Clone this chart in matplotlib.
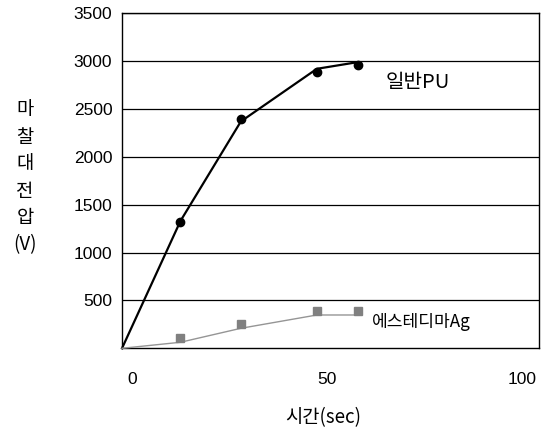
import matplotlib
matplotlib.use("Agg")
import matplotlib.pyplot as plt
import matplotlib.transforms as mtransforms

plt.rcParams['font.family'] = ['Liberation Sans', 'Noto Sans CJK KR', 'DejaVu Sans']

# Data
time_s = [15, 30.5, 50, 60.5]
pu_points = [1316, 2393, 2890, 2960]
ag_points = [104, 251, 390, 390]
line_time = [0, 15, 30.5, 50, 60.5]
pu_line = [0, 1330, 2370, 2920, 2990]
ag_line = [0, 63, 209, 348, 348]
x_ticks = [0, 50, 100]
y_ticks = [500, 1000, 1500, 2000, 2500, 3000, 3500]
y_ticklabels = ['500', '1000', '1500', '2000', '2500', '3000', '3500']
series_names = ['일반PU', '에스테디마Ag']
ylabel_chars = ['마', '찰', '대', '전', '압', '(V)']
xlabel = '시간(sec)'

W, H, DPI = 546, 432, 100
fig = plt.figure(figsize=(W / DPI, H / DPI), dpi=DPI)
left, right, top, bottom = 122, 539, 13.3, 348.3
ax = fig.add_axes([left / W, 1 - bottom / H, (right - left) / W, (bottom - top) / H])

# lines
ax.plot(line_time, pu_line, color='black', lw=1.6, zorder=3, clip_on=False)
ax.plot(line_time, ag_line, color='#959595', lw=1.0, zorder=3, clip_on=False)
# markers
ax.plot(time_s, pu_points, 'o', color='black', ms=6, zorder=4, clip_on=False)
ax.plot(time_s, ag_points, 's', color='#808080', ms=6.3, zorder=4, clip_on=False)

ax.set_xlim(0, 107)
ax.set_ylim(0, 3500)
ax.set_yticks(y_ticks)
ax.set_yticklabels(y_ticklabels)
ax.set_xticks(x_ticks)
ax.set_xticklabels([str(v) for v in x_ticks])
ax.yaxis.grid(True, color='black', lw=0.9)
ax.set_axisbelow(True)
ax.tick_params(axis='both', length=0, labelsize=12.5, colors='black')
ax.tick_params(axis='y', pad=7)
ax.tick_params(axis='x', pad=17)
offset = mtransforms.ScaledTranslation(10 / DPI, 0, fig.dpi_scale_trans)
for lbl in ax.get_xticklabels():
    lbl.set_transform(lbl.get_transform() + offset)
for sp in ax.spines.values():
    sp.set_color('black')
    sp.set_linewidth(1.0)

# series labels
ax.text(76, 2782, series_names[0], fontsize=14.5, ha='center', va='center',
        family=['Noto Sans CJK KR', 'DejaVu Sans'])
ax.text(76.7, 275, series_names[1], fontsize=12.3, ha='center', va='center',
        family=['Noto Sans CJK KR', 'DejaVu Sans'])

# axis labels
for i, ch in enumerate(ylabel_chars):
    fig.text(25 / W, 1 - (110 + 27 * i) / H, ch, fontsize=13.5, ha='center', va='center',
             family=['Noto Sans CJK KR', 'DejaVu Sans'])
fig.text(323 / W, 1 - 418 / H, xlabel, fontsize=13.5, ha='center', va='center',
         family=['Noto Sans CJK KR', 'DejaVu Sans'])

fig.savefig('out.png', dpi=DPI)
